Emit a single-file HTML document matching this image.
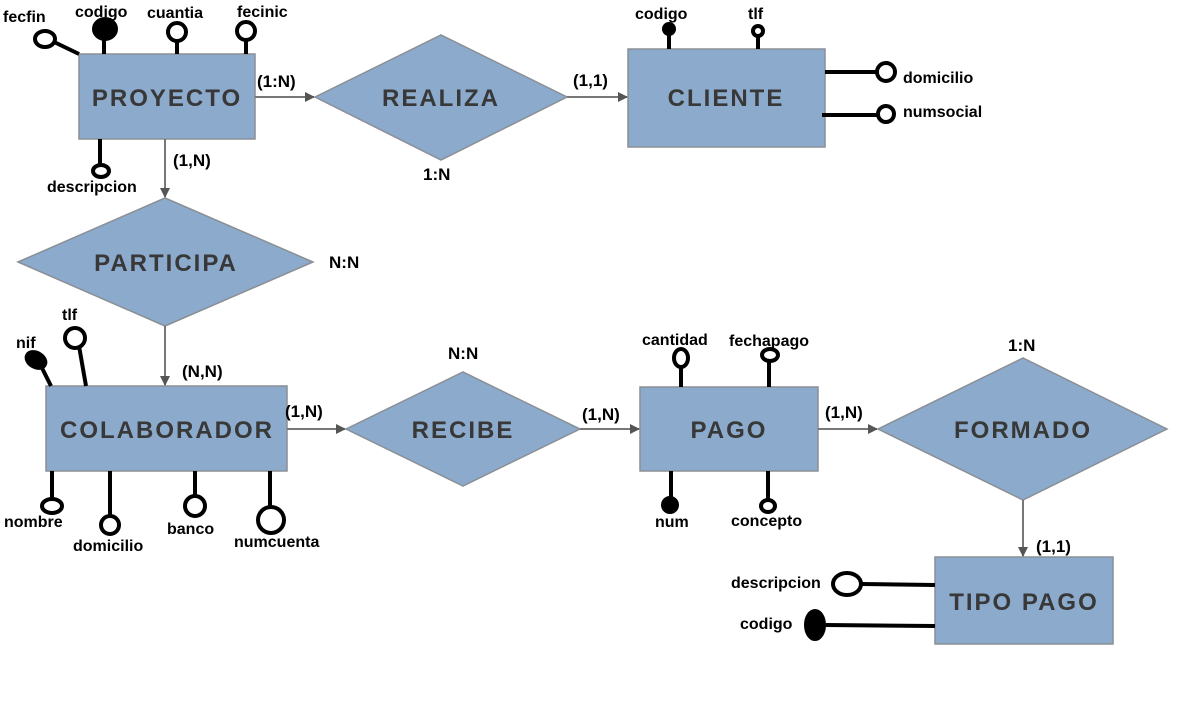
<!DOCTYPE html>
<html><head><meta charset="utf-8"><style>
html,body{margin:0;padding:0;background:#fff;width:1180px;height:719px;overflow:hidden}
svg text{font-family:"Liberation Sans",sans-serif;font-weight:bold}
.t{font-size:16px;fill:#000}
.e{font-size:24px;fill:#383838;text-anchor:middle;letter-spacing:2px}
.c{font-size:17px;fill:#000}
</style></head><body>
<svg width="1180" height="719" viewBox="0 0 1180 719">
<defs>
<marker id="a" markerWidth="10" markerHeight="10" refX="9" refY="5" orient="auto" markerUnits="userSpaceOnUse"><path d="M0,0 L10,5 L0,10 z" fill="#555"/></marker>
</defs>
<g fill="#8caacc" stroke="#8a8f96" stroke-width="1.5">
<rect x="79" y="54" width="176" height="85"/>
<polygon points="315,97 441,35 567,97 441,160"/>
<rect x="628" y="49" width="197" height="98"/>
<polygon points="18,262 165,198 313,262 165,326"/>
<rect x="46" y="386" width="241" height="85"/>
<polygon points="346,429 463,372 580,429 463,486"/>
<rect x="640" y="387" width="178" height="84"/>
<polygon points="878,429 1023,358 1167,429 1023,500"/>
<rect x="935" y="557" width="178" height="87"/>
</g>
<g stroke="#777" stroke-width="2" fill="none" marker-end="url(#a)">
<line x1="255" y1="97" x2="314" y2="97"/>
<line x1="567" y1="97" x2="627" y2="97"/>
<line x1="165" y1="139" x2="165" y2="197"/>
<line x1="165" y1="326" x2="165" y2="385"/>
<line x1="287" y1="429" x2="345" y2="429"/>
<line x1="580" y1="429" x2="639" y2="429"/>
<line x1="818" y1="429" x2="877" y2="429"/>
<line x1="1023" y1="500" x2="1023" y2="556"/>
</g>
<text class="e" x="167" y="106">PROYECTO</text>
<text class="e" x="441" y="106">REALIZA</text>
<text class="e" x="726" y="106">CLIENTE</text>
<text class="e" x="166" y="271">PARTICIPA</text>
<text class="e" x="167" y="438">COLABORADOR</text>
<text class="e" x="463" y="438">RECIBE</text>
<text class="e" x="729" y="438">PAGO</text>
<text class="e" x="1023" y="438">FORMADO</text>
<text class="e" x="1024" y="610">TIPO PAGO</text>
<g class="c">
<text x="257" y="87">(1:N)</text>
<text x="573" y="86">(1,1)</text>
<text x="173" y="166">(1,N)</text>
<text x="423" y="180">1:N</text>
<text x="329" y="268">N:N</text>
<text x="182" y="377">(N,N)</text>
<text x="285" y="417">(1,N)</text>
<text x="448" y="359">N:N</text>
<text x="582" y="420">(1,N)</text>
<text x="825" y="418">(1,N)</text>
<text x="1008" y="351">1:N</text>
<text x="1036" y="552">(1,1)</text>
</g>
<g stroke="#000" stroke-width="4" fill="#fff">
<line x1="79" y1="54" x2="52" y2="41"/><ellipse cx="45" cy="39" rx="10" ry="8"/>
<line x1="104" y1="54" x2="104" y2="36"/><ellipse cx="105" cy="29" rx="11" ry="10" fill="#000"/>
<line x1="177" y1="54" x2="177" y2="40"/><circle cx="177" cy="32" r="9"/>
<line x1="246" y1="54" x2="246" y2="39"/><circle cx="246" cy="31" r="9"/>
<line x1="100" y1="139" x2="100" y2="164"/><ellipse cx="101" cy="171" rx="8" ry="6"/>
<line x1="669" y1="49" x2="669" y2="33"/><circle cx="669" cy="29" r="5" fill="#000"/>
<line x1="758" y1="49" x2="758" y2="36"/><circle cx="758" cy="31" r="5"/>
<line x1="825" y1="72" x2="877" y2="72"/><circle cx="886" cy="72" r="9"/>
<line x1="822" y1="115" x2="878" y2="115"/><circle cx="886" cy="114" r="8"/>
<line x1="51" y1="386" x2="42" y2="368"/><ellipse cx="36" cy="360" rx="10" ry="7" fill="#000" transform="rotate(30 36 360)"/>
<line x1="86" y1="386" x2="79" y2="346"/><circle cx="75" cy="338" r="10"/>
<line x1="52" y1="471" x2="52" y2="499"/><ellipse cx="52" cy="506" rx="10" ry="7"/>
<line x1="110" y1="471" x2="110" y2="518"/><circle cx="110" cy="525" r="9"/>
<line x1="195" y1="471" x2="195" y2="496"/><circle cx="195" cy="506" r="10"/>
<line x1="270" y1="471" x2="270" y2="507"/><circle cx="271" cy="520" r="13"/>
<line x1="681" y1="387" x2="681" y2="365"/><ellipse cx="681" cy="358" rx="7" ry="9"/>
<line x1="769" y1="387" x2="769" y2="360"/><ellipse cx="770" cy="355" rx="8" ry="6"/>
<line x1="671" y1="471" x2="671" y2="500"/><circle cx="670" cy="505" r="7" fill="#000"/>
<line x1="768" y1="471" x2="768" y2="500"/><ellipse cx="768" cy="506" rx="7" ry="6"/>
<line x1="935" y1="585" x2="862" y2="584"/><ellipse cx="847" cy="584" rx="14" ry="11"/>
<line x1="935" y1="626" x2="826" y2="625"/><ellipse cx="815" cy="625" rx="9" ry="14" fill="#000"/>
</g>
<g class="t">
<text x="3" y="22">fecfin</text>
<text x="75" y="17">codigo</text>
<text x="147" y="18">cuantia</text>
<text x="237" y="17">fecinic</text>
<text x="47" y="192">descripcion</text>
<text x="635" y="19">codigo</text>
<text x="748" y="19">tlf</text>
<text x="903" y="83">domicilio</text>
<text x="903" y="117">numsocial</text>
<text x="16" y="348">nif</text>
<text x="62" y="320">tlf</text>
<text x="4" y="527">nombre</text>
<text x="73" y="551">domicilio</text>
<text x="167" y="534">banco</text>
<text x="234" y="547">numcuenta</text>
<text x="642" y="345">cantidad</text>
<text x="729" y="346">fechapago</text>
<text x="655" y="527">num</text>
<text x="731" y="526">concepto</text>
<text x="731" y="588">descripcion</text>
<text x="740" y="629">codigo</text>
</g>
</svg>
</body></html>
